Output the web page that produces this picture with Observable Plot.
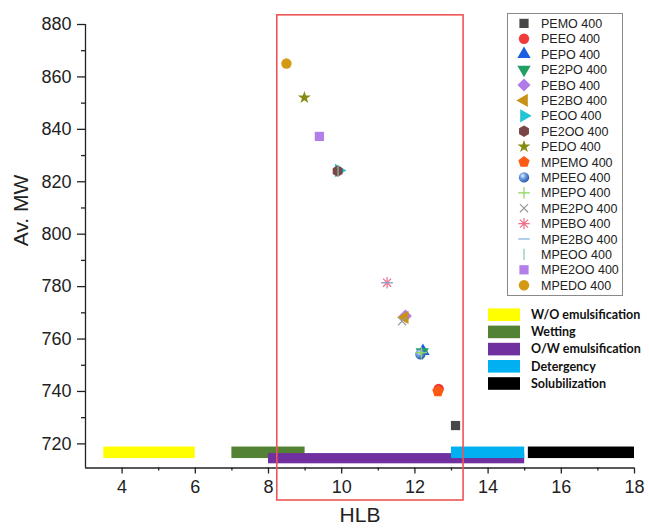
<!DOCTYPE html>
<html>
<head>
<meta charset="utf-8">
<script src="https://cdn.jsdelivr.net/npm/d3@7"></script>
<script src="https://cdn.jsdelivr.net/npm/@observablehq/plot@0.6"></script>
<style>
  html, body { margin: 0; padding: 0; background: #fff; }
  #wrap { position: relative; width: 649px; height: 531px; overflow: hidden; }
  #legend1 { position: absolute; left: 507px; top: 13px; }
  #legend2 { position: absolute; left: 486px; top: 305px; }
</style>
</head>
<body>
<div id="wrap"></div>
<script>
// ---- Data ----
const series = ["PEMO 400","PEEO 400","PEPO 400","PE2PO 400","PEBO 400","PE2BO 400","PEOO 400","PE2OO 400","PEDO 400",
  "MPEMO 400","MPEEO 400","MPEPO 400","MPE2PO 400","MPEBO 400","MPE2BO 400","MPEOO 400","MPE2OO 400","MPEDO 400"];
const hlb = [13.11, 12.65, 12.22, 12.20, 11.74, 11.72, 9.92, 9.89, 8.98,
  12.63, 12.15, 12.18, 11.65, 11.24, 11.24, 9.90, 9.39, 8.49];
const mw = [727.0, 741.0, 755.4, 755.0, 768.8, 768.3, 824.3, 824.1, 852.1,
  740.0, 754.2, 754.8, 766.8, 781.5, 781.5, 824.2, 837.3, 865.1];

const ranges = ["W/O emulsification","Wetting","O/W emulsification","Detergency","Solubilization"];
const rangeStart = [3.5, 7, 8, 13, 15.1];
const rangeEnd = [6, 9, 15, 15, 18];
const rangeLow = [714.4, 714.4, 712.4, 714.4, 714.4];
const rangeHigh = [718.8, 718.8, 716.3, 718.8, 718.8];

const highlightHLB = [8.24, 13.33];
const highlightMW = [698.4, 883.5];

const xTicks = [4, 6, 8, 10, 12, 14, 16, 18];
const xMinor = [5, 7, 9, 11, 13, 15, 17];
const yTicks = [720, 740, 760, 780, 800, 820, 840, 860, 880];
const yMinor = [730, 750, 770, 790, 810, 830, 850, 870];
const xDomain = [3, 18];
const yDomain = [710.8, 880];

// ---- Styles ----
const FONT = "Arial, 'Liberation Sans', Helvetica, sans-serif";
const colors = ["#474747","#f23a3a","#1a5fe0","#22a064","#b07ae8","#c8921a","#22c5d5","#7a4545","#878a10",
  "#ff5a14","url(#ball)","#8fd45a","#9a9a9a","#f0708a","#7ab0e0","#80c8b0","#b27ee8","#d49a14"];
const rangeColors = ["#ffff00","#548235","#7030a0","#00b0f0","#000000"];

function polygon(n, rotDeg, k = 1) {
  return { draw(ctx, size) {
    const r = k * Math.sqrt(2 * size / (n * Math.sin(2 * Math.PI / n)));
    const a0 = rotDeg * Math.PI / 180;
    for (let i = 0; i < n; i++) {
      const a = a0 + i * 2 * Math.PI / n;
      const px = r * Math.cos(a), py = r * Math.sin(a);
      if (i === 0) ctx.moveTo(px, py); else ctx.lineTo(px, py);
    }
    ctx.closePath();
  }};
}
function scaled(sym, k) { return { draw(ctx, size) { sym.draw(ctx, size * k); } }; }
function lines(angles) {
  return { draw(ctx, size) {
    const h = Math.sqrt(size) * 0.62;
    for (const deg of angles) {
      const a = deg * Math.PI / 180;
      ctx.moveTo(-h * Math.cos(a), -h * Math.sin(a));
      ctx.lineTo(h * Math.cos(a), h * Math.sin(a));
    }
  }};
}
const symbols = [d3.symbolSquare, d3.symbolCircle, polygon(3, -90, 0.95), polygon(3, 90, 0.95), polygon(4, -90), polygon(3, 180, 0.95),
  polygon(3, 0, 0.95), polygon(6, -90), scaled(d3.symbolStar, 0.6), polygon(5, -90), d3.symbolCircle, lines([0, 90]),
  lines([45, 135]), lines([0, 45, 90, 135]), lines([0]), lines([90]), d3.symbolSquare, d3.symbolCircle];
const strokeOnly = new Set(["MPEPO 400","MPE2PO 400","MPEBO 400","MPE2BO 400","MPEOO 400"]);

const points = series.map((s, i) => ({series: s, hlb: hlb[i], mw: mw[i]}));
const bars = ranges.map((r, i) => ({range: r, x1: rangeStart[i], x2: rangeEnd[i], y1: rangeLow[i], y2: rangeHigh[i], color: rangeColors[i]}));
const box = [{x1: highlightHLB[0], x2: highlightHLB[1], y1: highlightMW[0], y2: highlightMW[1]}];
const R = 5.2;

const plot = Plot.plot({
  width: 649, height: 531,
  marginLeft: 85, marginRight: 15, marginTop: 24, marginBottom: 63.5,
  x: {domain: xDomain},
  y: {domain: yDomain},
  color: {domain: series, range: colors},
  symbol: {domain: series, range: symbols},
  style: {fontFamily: FONT, fontSize: "18px", color: "#222", background: "#fff", overflow: "visible"},
  marks: [
    Plot.rect(bars, {x1: "x1", x2: "x2", y1: "y1", y2: "y2", fill: d => d.color}),
    Plot.dot(points.filter(d => !strokeOnly.has(d.series)), {x: "hlb", y: "mw", fill: "series", symbol: "series", r: R, stroke: "none"}),
    Plot.dot(points.filter(d => strokeOnly.has(d.series)), {x: "hlb", y: "mw", stroke: "series", symbol: "series", r: R, fill: "none", strokeWidth: 1.2}),
    Plot.ruleX([xDomain[0]], {stroke: "#222", strokeWidth: 1.3}),
    Plot.ruleY([yDomain[0]], {stroke: "#222", strokeWidth: 1.3}),
    Plot.axisX({ticks: xTicks, tickSize: 6, tickPadding: 6, label: null, stroke: "#222", strokeWidth: 1.3, fill: "#222", fontSize: 18}),
    Plot.axisX({ticks: xMinor, tickSize: 3, tickFormat: () => "", label: null, stroke: "#222", strokeWidth: 1.3}),
    Plot.axisY({ticks: yTicks, tickSize: 8, tickPadding: 6, label: null, stroke: "#222", strokeWidth: 1.3, fill: "#222", fontSize: 18}),
    Plot.axisY({ticks: yMinor, tickSize: 4, tickFormat: () => "", label: null, stroke: "#222", strokeWidth: 1.3}),
    Plot.text(["Av. MW"], {frameAnchor: "left", dx: -64, rotate: -90, fontSize: 21, fill: "#222"}),
    Plot.text(["HLB"], {frameAnchor: "bottom", dy: 54, fontSize: 21, fill: "#222"}),
    Plot.rect(box, {x1: "x1", x2: "x2", y1: "y1", y2: "y2", fill: "none", stroke: "#f05555", strokeWidth: 1.6})
  ]
});

// gradient for the shaded sphere marker
const NS = "http://www.w3.org/2000/svg";
function addBall(svg) {
  const defs = document.createElementNS(NS, "defs");
  defs.innerHTML = '<radialGradient id="ball" cx="38%" cy="35%" r="65%"><stop offset="0%" stop-color="#e4efff"/><stop offset="45%" stop-color="#6a9be0"/><stop offset="100%" stop-color="#2d5ba8"/></radialGradient>';
  svg.insertBefore(defs, svg.firstChild);
}
addBall(plot);
const wrap = document.getElementById("wrap");
wrap.appendChild(plot);

// ---- Series legend ----
const lg1 = d3.select(wrap).append("svg").attr("id", "legend1").attr("width", 116).attr("height", 283);
lg1.append("rect").attr("x", 0.5).attr("y", 0.5).attr("width", 115).attr("height", 282)
  .attr("fill", "#fff").attr("stroke", "#8a8a8a").attr("stroke-width", 1);
const size = Math.PI * R * R;
series.forEach((s, i) => {
  const y = 10.4 + 15.4 * i;
  const g = lg1.append("g").attr("transform", `translate(17,${y})`);
  const p = g.append("path").attr("d", d3.symbol(symbols[i], size)());
  if (strokeOnly.has(s)) p.attr("fill", "none").attr("stroke", colors[i]).attr("stroke-width", 1.2);
  else p.attr("fill", colors[i]);
  lg1.append("text").attr("x", 34).attr("y", y).attr("dy", "0.36em")
    .attr("font-family", FONT).attr("font-size", 12.5).attr("fill", "#222").text(s);
});
addBall(lg1.node());

// ---- HLB range legend ----
const lg2 = d3.select(wrap).append("svg").attr("id", "legend2").attr("width", 163).attr("height", 90);
ranges.forEach((r, i) => {
  const cy = 9.7 + 17.2 * i;
  lg2.append("rect").attr("x", 2).attr("y", cy - 6.3).attr("width", 32).attr("height", 12.6).attr("fill", rangeColors[i]);
  lg2.append("text").attr("x", 45).attr("y", cy).attr("dy", "0.35em")
    .attr("font-family", "Lato, 'Open Sans', sans-serif").attr("font-weight", 700).attr("font-size", 12.5)
    .attr("fill", "#111").text(r);
});
</script>
</body>
</html>
